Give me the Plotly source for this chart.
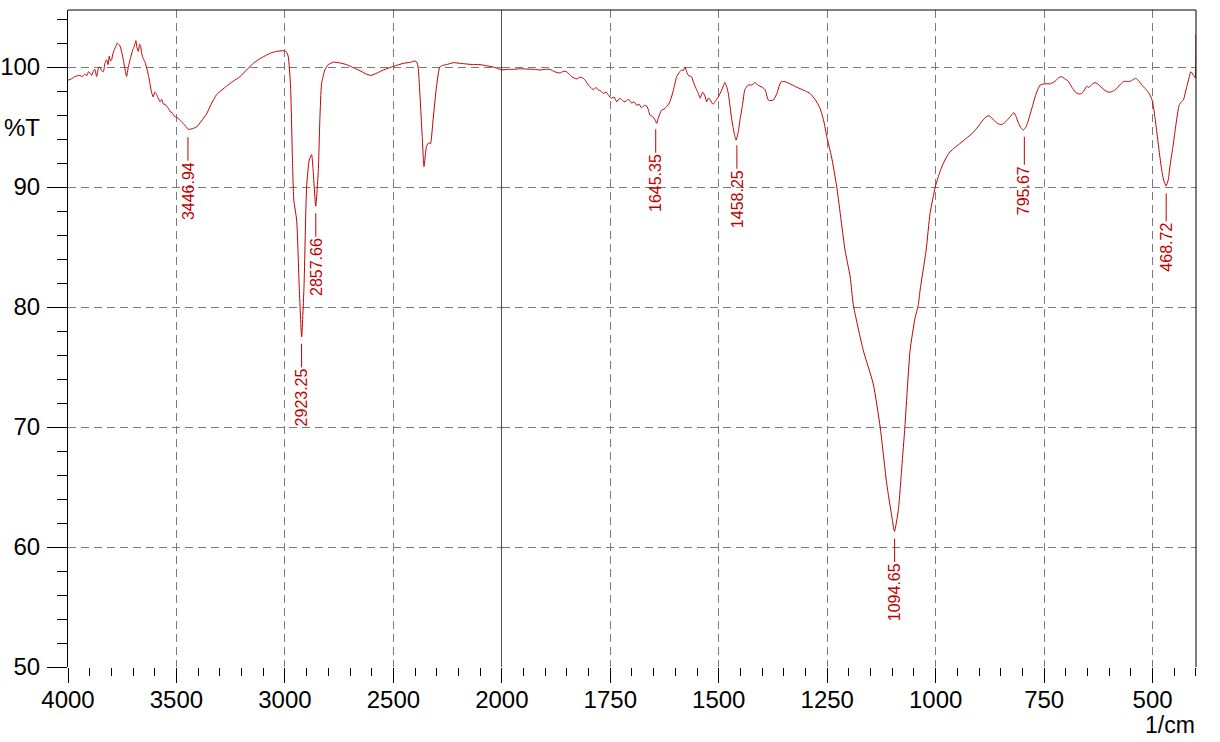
import numpy as np
import plotly.graph_objects as go

# ---------------- data ----------------
wavenumber = [
    4000, 3985, 3970, 3960, 3945, 3935, 3922, 3912, 3906, 3898, 3891, 3882, 3876, 3868, 3860,
    3853, 3845, 3837, 3830, 3822, 3815, 3810, 3804, 3799, 3793, 3787, 3780, 3773, 3767, 3760,
    3752, 3745, 3738, 3730, 3722, 3714, 3708, 3702, 3695, 3687, 3682, 3676, 3670, 3665, 3660,
    3653, 3645, 3635, 3628, 3622, 3615, 3607, 3600, 3591, 3584, 3576, 3568, 3560, 3552, 3545,
    3538, 3530, 3520, 3510, 3499, 3485, 3469, 3455, 3446, 3430, 3407, 3385, 3361, 3340, 3315,
    3290, 3269, 3240, 3207, 3180, 3146, 3115, 3084, 3060, 3038, 3008, 2995, 2985, 2974, 2966,
    2959, 2946, 2934, 2923, 2912, 2900, 2888, 2877, 2870, 2858, 2846, 2839, 2831, 2816, 2800,
    2777, 2750, 2716, 2680, 2654, 2630, 2604, 2575, 2547, 2500, 2455, 2420, 2401, 2392, 2386,
    2378, 2367, 2359, 2347, 2336, 2329, 2317, 2301, 2286, 2270, 2255, 2224, 2190, 2163, 2130,
    2101, 2070, 2040, 2015, 2000,
    1985, 1974, 1960, 1943, 1925, 1912, 1900, 1889, 1878, 1866, 1858, 1851, 1845, 1839, 1828,
    1820, 1812, 1806, 1801, 1795, 1789, 1783, 1778, 1772, 1766, 1760, 1755, 1751, 1747, 1741,
    1735, 1728, 1722, 1716, 1709, 1705, 1701, 1695, 1689, 1684, 1678, 1672, 1666, 1662, 1659,
    1653, 1647, 1643, 1639, 1632, 1626, 1620, 1614, 1609, 1603, 1597, 1590, 1586, 1582, 1578,
    1574, 1570, 1563, 1557, 1551, 1547, 1543, 1537, 1532, 1528, 1524, 1520, 1516, 1513, 1507,
    1501, 1493, 1486, 1482, 1478, 1470, 1464, 1460, 1455, 1451, 1445, 1440, 1432, 1424, 1416,
    1410, 1405, 1399, 1393, 1386, 1380, 1374, 1366, 1360, 1355, 1345, 1336, 1325, 1313, 1300,
    1290, 1278, 1267, 1258, 1251, 1240, 1228, 1209, 1197, 1190, 1167, 1144, 1128, 1113, 1101,
    1095, 1086, 1078, 1071, 1059, 1048, 1040, 1036, 1022, 1013, 1001, 990, 982, 970, 959,
    945, 928, 915, 905, 893, 882, 875, 867, 858, 848, 840, 832, 825, 820, 815,
    809, 803, 798, 792, 786, 778, 771, 765, 759, 748, 736, 730, 725, 717, 710,
    702, 694, 686, 678, 670, 663, 657, 652, 648, 644, 638, 633, 627, 621, 612,
    602, 594, 586, 576, 567, 560, 552, 545, 538, 531, 525, 517, 510, 505, 500,
    495, 490, 485, 479, 474, 469, 464, 459, 453, 448, 443, 439, 434, 429, 425,
    421, 416, 412, 409, 406, 402, 400,
]
transmittance = [
    98.9, 99.0, 99.2, 99.25, 99.3, 99.2, 99.4, 99.3, 99.6, 99.5, 99.3, 99.7, 99.8, 99.2, 99.9,
    100.0, 99.7, 99.6, 100.3, 100.6, 100.2, 100.9, 100.5, 100.6, 101.1, 101.4, 101.7, 102.0, 101.9, 101.75,
    101.2, 100.6, 99.9, 99.2, 100.0, 100.6, 101.0, 101.4, 101.7, 102.2, 101.6, 101.3, 101.9, 101.7, 101.1,
    100.7, 100.4, 99.75, 99.2, 98.6, 97.9, 97.5, 97.9, 97.7, 97.4, 97.1, 97.3, 96.9, 96.9, 96.7,
    96.6, 96.3, 96.2, 95.9, 95.8, 95.6, 95.3, 95.0, 94.8, 94.85, 95.0, 95.5, 96.1, 96.9, 97.7,
    98.1, 98.4, 98.8, 99.2, 99.7, 100.3, 100.7, 101.0, 101.2, 101.3, 101.36, 101.3, 100.9, 98.4, 92.8,
    88.9, 87.25, 81.7, 77.5, 81.7, 90.0, 92.25, 92.7, 91.4, 88.4, 91.4, 95.6, 98.6, 99.75, 100.2,
    100.4, 100.35, 100.2, 99.9, 99.7, 99.45, 99.3, 99.5, 99.75, 100.05, 100.3, 100.4, 100.5, 100.4, 100.0,
    97.8, 94.2, 91.7, 93.4, 93.7, 93.6, 95.6, 98.4, 100.0, 100.15, 100.2, 100.36, 100.3, 100.25, 100.2,
    100.2, 100.1, 100.0, 99.85, 99.75,
    99.8, 99.8, 99.85, 99.83, 99.8, 99.75, 99.8, 99.8, 99.6, 99.5, 99.65, 99.6, 99.4, 99.2, 99.0,
    99.15, 99.06, 98.8, 98.5, 98.3, 98.1, 98.3, 98.1, 98.0, 97.8, 97.9, 97.7, 97.5, 97.4, 97.5,
    97.1, 97.4, 97.2, 97.1, 97.3, 97.2, 97.0, 97.1, 96.8, 96.9, 96.6, 96.8, 96.75, 96.4, 96.0,
    95.9, 95.6, 95.3, 95.8, 96.4, 96.5, 96.7, 97.0, 97.5, 98.3, 99.2, 99.6, 99.75, 99.7, 99.97,
    99.6, 99.3, 99.2, 98.6, 98.1, 97.8, 97.4, 97.9, 97.6, 97.1, 97.4, 97.3, 97.0, 96.9, 97.2,
    97.5, 98.1, 98.7, 98.4, 97.8, 95.6, 94.4, 93.9, 94.6, 95.6, 96.9, 98.1, 98.5, 98.5, 98.7,
    98.5, 98.4, 98.3, 98.1, 97.25, 97.2, 97.25, 97.8, 98.5, 98.8, 98.75, 98.6, 98.4, 98.2, 98.0,
    97.8, 97.3, 96.6, 95.5, 94.2, 92.5, 90.0, 84.75, 82.5, 80.2, 76.4, 73.6, 70.0, 65.3, 62.5,
    61.3, 63.1, 66.7, 70.0, 76.4, 79.0, 80.2, 81.4, 84.75, 87.8, 90.0, 91.3, 92.0, 92.8, 93.2,
    93.6, 94.1, 94.5, 94.9, 95.5, 95.9, 95.9, 95.6, 95.3, 95.2, 95.4, 95.7, 96.0, 96.2, 95.9,
    95.3, 94.9, 94.75, 95.0, 95.6, 96.6, 97.5, 98.1, 98.5, 98.6, 98.6, 98.7, 98.8, 99.1, 99.2,
    99.0, 98.8, 98.3, 97.9, 97.75, 97.8, 98.1, 98.4, 98.3, 98.4, 98.6, 98.7, 98.6, 98.4, 98.1,
    97.9, 97.95, 98.1, 98.5, 98.8, 98.8, 98.8, 98.95, 99.06, 98.8, 98.5, 98.2, 97.9, 97.6, 97.1,
    95.9, 94.5, 93.0, 91.4, 90.5, 90.1, 90.6, 92.0, 93.4, 94.75, 96.0, 96.8, 97.1, 97.25, 97.8,
    98.4, 99.1, 99.6, 99.5, 99.3, 99.1, 102.7,
]

peak_wavenumbers = [3446.94, 2923.25, 2857.66, 1645.35, 1458.25, 1094.65, 795.67, 468.72]
peak_labels = ["3446.94", "2923.25", "2857.66", "1645.35", "1458.25", "1094.65", "795.67", "468.72"]

y_ticks = [50, 60, 70, 80, 90, 100]
x_left_ticks = [4000, 3500, 3000, 2500, 2000]
x_right_ticks = [1750, 1500, 1250, 1000, 750, 500]
x_break = 2000

# ---------------- styling ----------------
RED = "#c00000"
GRID = "#7a7a7a"
FONT = "Liberation Sans, Arial, sans-serif"

wn = np.array(wavenumber, dtype=float)
tr = np.array(transmittance, dtype=float)
left_mask = wn >= x_break
right_mask = wn <= x_break

fig = go.Figure()
fig.add_trace(go.Scatter(x=wn[left_mask], y=tr[left_mask], mode="lines",
                         line=dict(color=RED, width=1, shape="spline", smoothing=0.5),
                         xaxis="x", yaxis="y", showlegend=False, hoverinfo="x+y"))
fig.add_trace(go.Scatter(x=wn[right_mask], y=tr[right_mask], mode="lines",
                         line=dict(color=RED, width=1, shape="spline", smoothing=0.5),
                         xaxis="x2", yaxis="y", showlegend=False, hoverinfo="x+y"))

# peak labels
order = np.argsort(wn)
for p, lab in zip(peak_wavenumbers, peak_labels):
    t_at = float(np.interp(p, wn[order], tr[order]))
    fig.add_annotation(
        x=p, y=t_at, xref="x" if p >= x_break else "x2", yref="y",
        text=lab, textangle=-90, showarrow=True, arrowhead=0, arrowwidth=1,
        arrowcolor=RED, ax=0, ay=62, standoff=8,
        font=dict(family=FONT, size=16, color=RED),
    )

left_frac = (4000 - x_break) / ((4000 - x_break) + 2 * (x_break - 400))

tickfont = dict(family=FONT, size=24, color="black")
common_x = dict(
    showgrid=True, gridcolor=GRID, gridwidth=1, griddash="8px,5px",
    ticks="outside", ticklen=15, tickwidth=1, tickcolor="black",
    showline=False, zeroline=False, tickfont=tickfont, automargin=False,
    ticklabelstandoff=-4,
)
fig.update_layout(
    width=1220, height=742,
    margin=dict(l=68, r=24, t=10, b=75),
    paper_bgcolor="white", plot_bgcolor="white",
    font=dict(family=FONT, color="black"),
    xaxis=dict(range=[4000, x_break], domain=[0, left_frac], tickmode="array",
               tickvals=x_left_ticks, anchor="y",
               minor=dict(tickmode="linear", tick0=0, dtick=100, ticks="outside",
                          ticklen=8, tickcolor="black", showgrid=False),
               **common_x),
    xaxis2=dict(range=[x_break, 400], domain=[left_frac, 1], tickmode="array",
                tickvals=x_right_ticks, anchor="y",
                minor=dict(tickmode="linear", tick0=0, dtick=50, ticks="outside",
                           ticklen=8, tickcolor="black", showgrid=False),
                **common_x),
    yaxis=dict(range=[50, 104.75], tickmode="array", tickvals=y_ticks,
               showgrid=True, gridcolor=GRID, gridwidth=1, griddash="8px,5px",
               ticks="outside", ticklen=20, tickwidth=1, tickcolor="black",
               showline=True, linecolor="black", linewidth=1, zeroline=False,
               tickfont=tickfont, automargin=False, ticklabelstandoff=2,
               minor=dict(tickmode="linear", tick0=0, dtick=2, ticks="outside",
                          ticklen=10, tickcolor="black", showgrid=False)),
)

# frame lines (top, right) and the scale-break line at 2000
fig.add_shape(type="line", xref="paper", yref="paper", x0=0, x1=1, y0=1, y1=1,
              line=dict(color="black", width=1))
fig.add_shape(type="line", xref="paper", yref="paper", x0=1, x1=1, y0=0, y1=1,
              line=dict(color="black", width=1))
fig.add_shape(type="line", xref="x", yref="paper", x0=x_break, x1=x_break, y0=0, y1=1,
              line=dict(color="black", width=1.3))

fig.add_annotation(text="%T", xref="paper", x=0, xanchor="right", xshift=-26,
                   yref="y", y=95, yanchor="middle", showarrow=False,
                   font=dict(family=FONT, size=24, color="black"))
fig.add_annotation(text="1/cm", xref="paper", x=1, xanchor="right", borderpad=0,
                   yref="paper", y=0, yanchor="top", yshift=-44, showarrow=False,
                   font=dict(family=FONT, size=23, color="black"))

# remove the default page margin so the figure sits at the window's top-left corner
fig.write_html("out.html", config={"displayModeBar": False},
               post_script="document.body.style.margin='0';")
